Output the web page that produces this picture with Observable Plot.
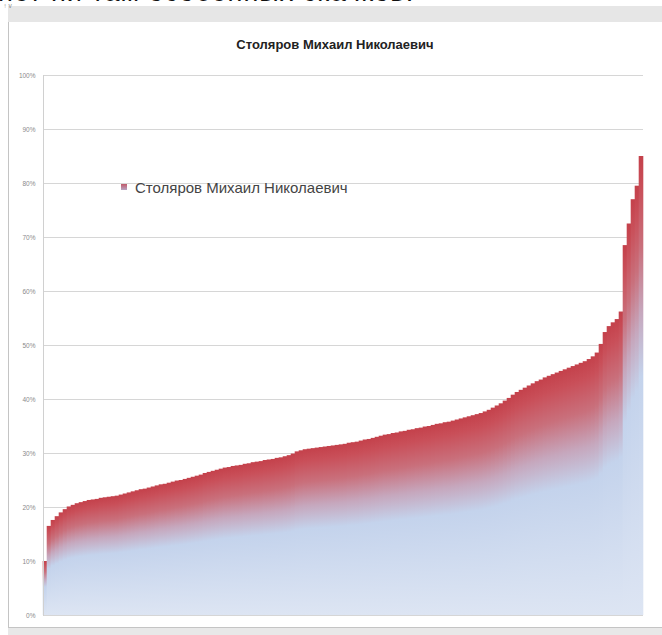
<!DOCTYPE html>
<html>
<head>
<meta charset="utf-8">
<script src="https://cdn.jsdelivr.net/npm/d3@7"></script>
<script src="https://cdn.jsdelivr.net/npm/@observablehq/plot@0.6"></script>
<style>
  html, body { margin: 0; padding: 0; background: #fff; }
  #page { position: relative; width: 662px; height: 635px; overflow: hidden; background: #fff; }
  #topclip { position: absolute; left: 0; top: 0; width: 662px; height: 6px; overflow: hidden; }
  #toptext { position: absolute; left: -2px; top: -21px; font: 27px/27px "Liberation Sans", Arial, sans-serif; color: #111; white-space: nowrap; letter-spacing: 1px; }
  #band { position: absolute; left: 8px; right: 0; top: 6px; height: 16px; background: #e6e6e6; border-bottom: 1px solid #cfcfcf; }
  #frame { position: absolute; left: 8px; top: 22px; width: 660px; height: 605px; border-left: 1px solid #c4c4c4; border-bottom: 1px solid #c4c4c4; background: #fff; }
  #bottom { position: absolute; left: 8px; right: 0; top: 628px; bottom: 0; background: #e8e8e8; }
  #chart { position: absolute; left: 0; top: 0; }
  #title { position: absolute; left: 0; width: 670px; top: 37px; text-align: center; font: bold 13px "Liberation Sans Narrow", "Liberation Sans", sans-serif; color: #222; }
  #legend { position: absolute; left: 121px; top: 179px; font: 15px "Liberation Sans Narrow", "Liberation Sans", sans-serif; color: #444; white-space: nowrap; }
  #legend .sw { display: inline-block; width: 6px; height: 6px; margin-right: 8px; vertical-align: 3px; background: linear-gradient(#c25a6a, #b8a6c4); }
</style>
</head>
<body>
<div id="page">
  <div id="topclip"><div id="toptext">нет ни там особенных скачков:</div></div>
  <div id="band"></div>
  <div id="frame"></div>
  <div id="bottom"></div>
  <div id="chart"></div>
  <div id="title">Столяров Михаил Николаевич</div>
  <div id="legend"><span class="sw"></span>Столяров Михаил Николаевич</div>
</div>
<script>
const seriesName = "Столяров Михаил Николаевич";
const values = [
  10.0, 16.5, 17.6, 18.3, 19.0, 19.6, 20.1, 20.4, 20.7, 20.9,
  21.1, 21.3, 21.4, 21.5, 21.7, 21.8, 21.9, 22.0, 22.1, 22.3,
  22.5, 22.7, 22.9, 23.1, 23.3, 23.4, 23.6, 23.8, 24.0, 24.2,
  24.3, 24.5, 24.7, 24.9, 25.0, 25.2, 25.4, 25.6, 25.8, 26.0,
  26.3, 26.5, 26.7, 26.9, 27.1, 27.3, 27.4, 27.6, 27.7, 27.8,
  28.0, 28.1, 28.3, 28.4, 28.5, 28.7, 28.8, 28.9, 29.1, 29.2,
  29.4, 29.6, 29.9, 30.3, 30.5, 30.7, 30.8, 30.9, 31.0, 31.1,
  31.2, 31.3, 31.4, 31.5, 31.6, 31.7, 31.9, 32.0, 32.1, 32.3,
  32.5, 32.6, 32.8, 33.0, 33.2, 33.4, 33.5, 33.7, 33.8, 34.0,
  34.1, 34.3, 34.4, 34.6, 34.7, 34.9, 35.0, 35.2, 35.4, 35.5,
  35.7, 35.8, 36.0, 36.2, 36.4, 36.6, 36.8, 37.0, 37.2, 37.4,
  37.7, 38.0, 38.4, 38.8, 39.2, 39.7, 40.2, 40.8, 41.3, 41.7,
  42.1, 42.5, 42.9, 43.3, 43.6, 44.0, 44.3, 44.6, 44.9, 45.2,
  45.5, 45.8, 46.1, 46.4, 46.7, 47.0, 47.4, 47.9, 48.6, 50.2,
  52.4, 53.5, 54.2, 54.8, 56.2, 68.5, 72.5, 77.0, 79.5, 85.0
];
const yTicks = [0, 10, 20, 30, 40, 50, 60, 70, 80, 90, 100];

const data = values.map((v, i) => ({i, v: v / 100}));

const plot = Plot.plot({
  width: 662,
  height: 635,
  marginTop: 75,
  marginBottom: 20,
  marginLeft: 43,
  marginRight: 19,
  style: {background: "transparent", fontFamily: "Liberation Sans, sans-serif"},
  x: {type: "band", domain: data.map(d => d.i), padding: 0, axis: null},
  y: {domain: [0, 1], axis: null},
  marks: [
    Plot.gridY(yTicks.map(t => t / 100), {stroke: "#d6d6d6", strokeOpacity: 1, strokeWidth: 1.2}),
    Plot.axisY(yTicks.map(t => t / 100), {tickSize: 0, tickPadding: 8, fontSize: 6.5, fill: "#8a8a8a", tickFormat: d => Math.round(d * 100) + "%"}),
    Plot.barY(data, {x: "i", y: "v", fill: "url(#barGrad)", insetLeft: -0.3, insetRight: -0.3}),
    Plot.frame({anchor: "left", stroke: "#d0d0d0"})
  ]
});

const ns = "http://www.w3.org/2000/svg";
const defs = document.createElementNS(ns, "defs");
const grad = document.createElementNS(ns, "linearGradient");
grad.setAttribute("id", "barGrad");
grad.setAttribute("x1", "0"); grad.setAttribute("y1", "0");
grad.setAttribute("x2", "0"); grad.setAttribute("y2", "1");
[[0, "#c4414b"], [0.07, "#c94f59"], [0.2, "#c9707c"], [0.34, "#c6a7bd"], [0.48, "#c4d3ec"], [1, "#dde5f3"]].forEach(([o, c]) => {
  const s = document.createElementNS(ns, "stop");
  s.setAttribute("offset", o);
  s.setAttribute("stop-color", c);
  grad.appendChild(s);
});
defs.appendChild(grad);
plot.insertBefore(defs, plot.firstChild);
plot.setAttribute("aria-label", seriesName);
document.getElementById("chart").appendChild(plot);
</script>
</body>
</html>
